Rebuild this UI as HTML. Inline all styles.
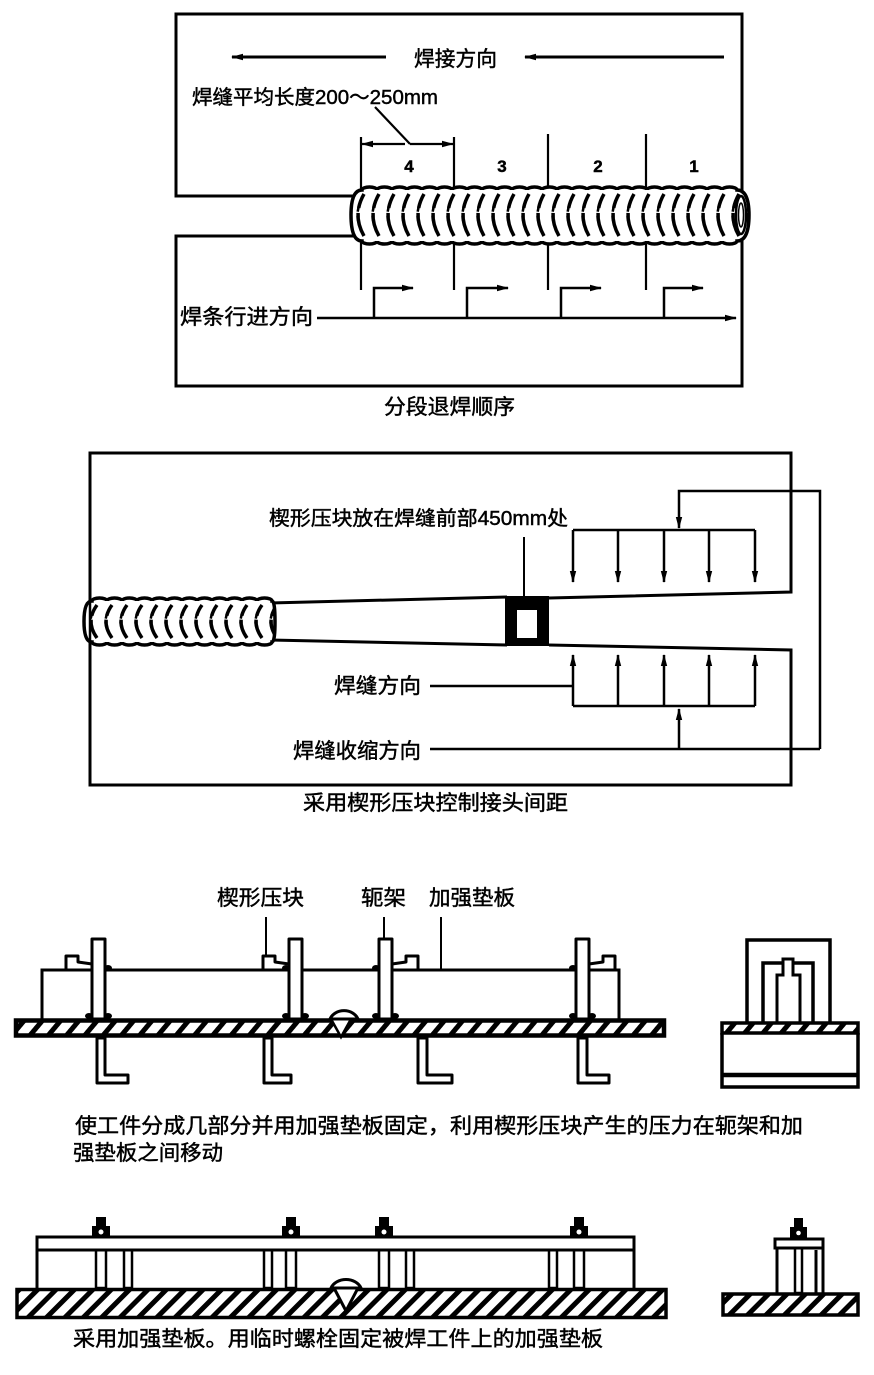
<!DOCTYPE html>
<html><head><meta charset="utf-8">
<style>
html,body{margin:0;padding:0;background:#fff;}
svg{display:block;}
text{font-family:"Liberation Sans","Noto Sans CJK SC",sans-serif;fill:#000;stroke:#000;stroke-width:0.45;}
</style></head><body>
<svg width="874" height="1375" viewBox="0 0 874 1375" xmlns="http://www.w3.org/2000/svg">
<defs>
<marker id="ah" markerWidth="12" markerHeight="8" refX="11" refY="4" orient="auto" markerUnits="userSpaceOnUse"><path d="M0,0.8 L12,4 L0,7.2 Z" fill="#000"/></marker>
<pattern id="bead1" patternUnits="userSpaceOnUse" x="352" y="189" width="15" height="52">
 <path d="M12,5 Q0,26 12,47" fill="none" stroke="#000" stroke-width="3.5" stroke-dasharray="15,5,40"/>
 <path d="M8,14 Q3,26 8,38" fill="none" stroke="#000" stroke-width="2.5" stroke-dasharray="9,4,20"/>
</pattern>
<pattern id="bead2" patternUnits="userSpaceOnUse" x="85" y="601" width="15" height="41">
 <path d="M12,4 Q0,20.5 12,37" fill="none" stroke="#000" stroke-width="3.5" stroke-dasharray="12,4,30"/>
 <path d="M8,11 Q3,20.5 8,30" fill="none" stroke="#000" stroke-width="2.5" stroke-dasharray="7,3,20"/>
</pattern>
<pattern id="hA" width="14" height="14" patternUnits="userSpaceOnUse" patternTransform="rotate(40)"><rect width="5" height="14" fill="#000"/></pattern>
<pattern id="hB" width="13" height="13" patternUnits="userSpaceOnUse" patternTransform="rotate(45)"><rect width="5" height="13" fill="#000"/></pattern>
<path id="b1" d="M362,190 a7.5,3 0 0 1 15,0 a7.5,3 0 0 1 15,0 a7.5,3 0 0 1 15,0 a7.5,3 0 0 1 15,0 a7.5,3 0 0 1 15,0 a7.5,3 0 0 1 15,0 a7.5,3 0 0 1 15,0 a7.5,3 0 0 1 15,0 a7.5,3 0 0 1 15,0 a7.5,3 0 0 1 15,0 a7.5,3 0 0 1 15,0 a7.5,3 0 0 1 15,0 a7.5,3 0 0 1 15,0 a7.5,3 0 0 1 15,0 a7.5,3 0 0 1 15,0 a7.5,3 0 0 1 15,0 a7.5,3 0 0 1 15,0 a7.5,3 0 0 1 15,0 a7.5,3 0 0 1 15,0 a7.5,3 0 0 1 15,0 a7.5,3 0 0 1 15,0 a7.5,3 0 0 1 15,0 a7.5,3 0 0 1 15,0 a7.5,3 0 0 1 15,0 a7.5,3 0 0 1 15,0 Q749,190 749,215 Q749,241 737,241 a7.5,3 0 0 1 -15,0 a7.5,3 0 0 1 -15,0 a7.5,3 0 0 1 -15,0 a7.5,3 0 0 1 -15,0 a7.5,3 0 0 1 -15,0 a7.5,3 0 0 1 -15,0 a7.5,3 0 0 1 -15,0 a7.5,3 0 0 1 -15,0 a7.5,3 0 0 1 -15,0 a7.5,3 0 0 1 -15,0 a7.5,3 0 0 1 -15,0 a7.5,3 0 0 1 -15,0 a7.5,3 0 0 1 -15,0 a7.5,3 0 0 1 -15,0 a7.5,3 0 0 1 -15,0 a7.5,3 0 0 1 -15,0 a7.5,3 0 0 1 -15,0 a7.5,3 0 0 1 -15,0 a7.5,3 0 0 1 -15,0 a7.5,3 0 0 1 -15,0 a7.5,3 0 0 1 -15,0 a7.5,3 0 0 1 -15,0 a7.5,3 0 0 1 -15,0 a7.5,3 0 0 1 -15,0 a7.5,3 0 0 1 -15,0 Q351,241 351,215 Q351,190 362,190 Z"/>
<path id="b2" d="M92,601 a7.5,3 0 0 1 15,0 a7.5,3 0 0 1 15,0 a7.5,3 0 0 1 15,0 a7.5,3 0 0 1 15,0 a7.5,3 0 0 1 15,0 a7.5,3 0 0 1 15,0 a7.5,3 0 0 1 15,0 a7.5,3 0 0 1 15,0 a7.5,3 0 0 1 15,0 a7.5,3 0 0 1 15,0 a7.5,3 0 0 1 15,0 a7.5,3 0 0 1 15,0 Q275,601 275,621.5 Q275,642 272,642 a7.5,3 0 0 1 -15,0 a7.5,3 0 0 1 -15,0 a7.5,3 0 0 1 -15,0 a7.5,3 0 0 1 -15,0 a7.5,3 0 0 1 -15,0 a7.5,3 0 0 1 -15,0 a7.5,3 0 0 1 -15,0 a7.5,3 0 0 1 -15,0 a7.5,3 0 0 1 -15,0 a7.5,3 0 0 1 -15,0 a7.5,3 0 0 1 -15,0 a7.5,3 0 0 1 -15,0 Q84,642 84,621.5 Q84,601 92,601 Z"/>
</defs>
<rect width="874" height="1375" fill="#fff"/>

<!-- ===== TOP DIAGRAM ===== -->
<g fill="none" stroke="#000" stroke-width="3">
 <path d="M358,196 H176 V14 H742 V194"/>
 <path d="M358,236 H176 V386 H742 V238"/>
</g>
<g stroke="#000" stroke-width="3" fill="none">
 <line x1="386" y1="57" x2="232" y2="57" marker-end="url(#ah)"/>
 <line x1="724" y1="57" x2="525" y2="57" marker-end="url(#ah)"/>
</g>
<text x="414" y="66" font-size="21" textLength="83" lengthAdjust="spacingAndGlyphs">焊接方向</text>
<text x="192" y="104" font-size="20" textLength="246" lengthAdjust="spacingAndGlyphs">焊缝平均长度200～250mm</text>
<g stroke="#000" stroke-width="2.2" fill="none">
 <line x1="375" y1="107" x2="410" y2="144"/>
 <path d="M361,137 V290 M454,137 V290 M548,134 V290 M646,134 V290"/>
 <line x1="405" y1="144" x2="362" y2="144" marker-end="url(#ah)"/>
 <line x1="410" y1="144" x2="453" y2="144" marker-end="url(#ah)"/>
</g>
<g font-family="Liberation Serif, serif" font-weight="bold" font-size="17" text-anchor="middle">
 <text x="409" y="172">4</text><text x="502" y="172">3</text><text x="598" y="172">2</text><text x="694" y="172">1</text>
</g>
<use href="#b1" fill="#fff" stroke="none"/>
<use href="#b1" fill="url(#bead1)" stroke="#000" stroke-width="3.5"/>
<ellipse cx="741" cy="215" rx="5" ry="19" fill="none" stroke="#000" stroke-width="2.5"/>
<ellipse cx="741" cy="215" rx="2.5" ry="12" fill="none" stroke="#000" stroke-width="1.5"/>
<g stroke="#000" stroke-width="2.5" fill="none">
 <path d="M317,318 H736" marker-end="url(#ah)"/>
 <path d="M374,318 V288 H413" marker-end="url(#ah)"/>
 <path d="M467,318 V288 H508" marker-end="url(#ah)"/>
 <path d="M561,318 V288 H601" marker-end="url(#ah)"/>
 <path d="M664,318 V288 H703" marker-end="url(#ah)"/>
</g>
<text x="180" y="324" font-size="21" textLength="133" lengthAdjust="spacingAndGlyphs">焊条行进方向</text>
<text x="384" y="414" font-size="21" textLength="131" lengthAdjust="spacingAndGlyphs">分段退焊顺序</text>

<!-- ===== MIDDLE DIAGRAM ===== -->
<g fill="none" stroke="#000" stroke-width="3">
 <path d="M90,602 V453 H791 V592 L549,598"/>
 <path d="M270,603 L507,597"/>
 <path d="M270,640 L507,645"/>
 <path d="M549,645 L791,650 V785 H90 V642"/>
</g>
<use href="#b2" fill="#fff" stroke="none"/>
<use href="#b2" fill="url(#bead2)" stroke="#000" stroke-width="3.5"/>
<line x1="90" y1="598" x2="90" y2="646" stroke="#000" stroke-width="2.5"/>
<rect x="505" y="596" width="44" height="50" fill="#000"/>
<rect x="517" y="610" width="20" height="28" fill="#fff"/>
<line x1="524" y1="537" x2="524" y2="597" stroke="#000" stroke-width="2"/>
<text x="269" y="525" font-size="20" textLength="299" lengthAdjust="spacingAndGlyphs">楔形压块放在焊缝前部450mm处</text>
<g stroke="#000" stroke-width="2.5" fill="none">
 <path d="M820,749 V491 H679 V528" marker-end="url(#ah)"/>
 <path d="M573,530 H755"/>
 <path d="M573,530 V582" marker-end="url(#ah)"/>
 <path d="M618,530 V582" marker-end="url(#ah)"/>
 <path d="M664,530 V582" marker-end="url(#ah)"/>
 <path d="M709,530 V582" marker-end="url(#ah)"/>
 <path d="M755,530 V582" marker-end="url(#ah)"/>
 <path d="M573,706 H755"/>
 <path d="M573,706 V655" marker-end="url(#ah)"/>
 <path d="M618,706 V655" marker-end="url(#ah)"/>
 <path d="M664,706 V655" marker-end="url(#ah)"/>
 <path d="M709,706 V655" marker-end="url(#ah)"/>
 <path d="M755,706 V655" marker-end="url(#ah)"/>
 <path d="M679,749 V709" marker-end="url(#ah)"/>
 <path d="M430,686 H573"/>
 <path d="M430,749 H820"/>
</g>
<text x="334" y="693" font-size="21" textLength="87" lengthAdjust="spacingAndGlyphs">焊缝方向</text>
<text x="293" y="758" font-size="21" textLength="128" lengthAdjust="spacingAndGlyphs">焊缝收缩方向</text>
<text x="303" y="810" font-size="21" textLength="265" lengthAdjust="spacingAndGlyphs">采用楔形压块控制接头间距</text>

<!-- ===== SECTION A ===== -->
<text x="217" y="905" font-size="21" textLength="87" lengthAdjust="spacingAndGlyphs">楔形压块</text>
<text x="361" y="905" font-size="21" textLength="45" lengthAdjust="spacingAndGlyphs">轭架</text>
<text x="429" y="905" font-size="21" textLength="86" lengthAdjust="spacingAndGlyphs">加强垫板</text>
<g stroke="#000" stroke-width="2" fill="none">
 <path d="M266,917 V958 M384,917 V941 M441,917 V970"/>
</g>
<path d="M42,1019 V970 H619 V1019" fill="none" stroke="#000" stroke-width="3"/>
<g fill="#fff" stroke="#000" stroke-width="3" stroke-linejoin="round">
 <polygon points="66,970 66,956 78,956 78,962 92,964 92,970"/>
 <polygon points="263,970 263,956 275,956 275,962 289,964 289,970"/>
 <polygon points="392,970 392,964 406,962 406,956 418,956 418,970"/>
 <polygon points="589,970 589,964 603,962 603,956 615,956 615,970"/>
 <rect x="92" y="939" width="13" height="80"/>
 <rect x="289" y="939" width="13" height="80"/>
 <rect x="379" y="939" width="13" height="80"/>
 <rect x="576" y="939" width="13" height="80"/>
</g>
<g fill="#000">
 <ellipse cx="89" cy="1016" rx="4" ry="3"/><ellipse cx="108" cy="1016" rx="4" ry="3"/>
 <ellipse cx="286" cy="1016" rx="4" ry="3"/><ellipse cx="305" cy="1016" rx="4" ry="3"/>
 <ellipse cx="376" cy="1016" rx="4" ry="3"/><ellipse cx="395" cy="1016" rx="4" ry="3"/>
 <ellipse cx="573" cy="1016" rx="4" ry="3"/><ellipse cx="592" cy="1016" rx="4" ry="3"/>
 <ellipse cx="108" cy="968" rx="4" ry="3"/><ellipse cx="286" cy="968" rx="4" ry="3"/>
 <ellipse cx="376" cy="968" rx="4" ry="3"/><ellipse cx="573" cy="968" rx="4" ry="3"/>
</g>
<rect x="16" y="1020.5" width="648" height="15" fill="url(#hA)" stroke="#000" stroke-width="4.5"/>
<polygon points="331,1019 341,1037 351,1019" fill="#fff" stroke="#000" stroke-width="2.5"/>
<path d="M330,1019 A15,13 0 0 1 358,1019 Z" fill="#fff" stroke="#000" stroke-width="3"/>
<g fill="#fff" stroke="#000" stroke-width="3" stroke-linejoin="round">
 <polygon points="97,1038 97,1083 128,1083 128,1075 105,1075 105,1038"/>
 <polygon points="264,1038 264,1083 291,1083 291,1075 272,1075 272,1038"/>
 <polygon points="418,1038 418,1083 452,1083 452,1075 427,1075 427,1038"/>
 <polygon points="578,1038 578,1083 609,1083 609,1075 587,1075 587,1038"/>
</g>
<!-- right A -->
<g fill="none" stroke="#000" stroke-width="3.5">
 <path d="M747,1022 V940 H830 V1022"/>
 <path d="M763,1022 V963 H813 V1022"/>
</g>
<path d="M777,1022 V975 H783 V959 H793 V975 H800 V1022" fill="#fff" stroke="#000" stroke-width="3"/>
<rect x="722" y="1023" width="136" height="10" fill="url(#hA)" stroke="#000" stroke-width="3.5"/>
<path d="M722,1033 V1087 H858 V1033" fill="none" stroke="#000" stroke-width="3.5"/>
<line x1="722" y1="1075" x2="858" y2="1075" stroke="#000" stroke-width="4.5"/>

<text x="75" y="1133" font-size="21" textLength="728" lengthAdjust="spacingAndGlyphs">使工件分成几部分并用加强垫板固定，利用楔形压块产生的压力在轭架和加</text>
<text x="73" y="1160" font-size="21" textLength="150" lengthAdjust="spacingAndGlyphs">强垫板之间移动</text>

<!-- ===== SECTION B ===== -->
<g fill="#fff" stroke="#000" stroke-width="2.5">
 <path d="M37,1250 V1288 M634,1250 V1288" fill="none" stroke-width="3"/>
 <rect x="124" y="1250" width="8" height="38"/>
 <rect x="264" y="1250" width="8" height="38"/>
 <rect x="406" y="1250" width="8" height="38"/>
 <rect x="549" y="1250" width="8" height="38"/>
 <rect x="96" y="1250" width="10" height="38"/>
 <rect x="286" y="1250" width="10" height="38"/>
 <rect x="379" y="1250" width="10" height="38"/>
 <rect x="574" y="1250" width="10" height="38"/>
</g>
<rect x="37" y="1237" width="597" height="13" fill="#fff" stroke="#000" stroke-width="3"/>
<g fill="#000">
 <rect x="96" y="1217" width="10" height="10"/><rect x="92" y="1226" width="18" height="11"/>
 <rect x="286" y="1217" width="10" height="10"/><rect x="282" y="1226" width="18" height="11"/>
 <rect x="379" y="1217" width="10" height="10"/><rect x="375" y="1226" width="18" height="11"/>
 <rect x="574" y="1217" width="10" height="10"/><rect x="570" y="1226" width="18" height="11"/>
</g>
<g fill="#fff">
 <circle cx="101" cy="1232" r="2.5"/><circle cx="291" cy="1232" r="2.5"/>
 <circle cx="384" cy="1232" r="2.5"/><circle cx="579" cy="1232" r="2.5"/>
</g>
<rect x="17" y="1289.5" width="649" height="28" fill="url(#hB)" stroke="#000" stroke-width="3.5"/>
<polygon points="334,1288 346,1311 358,1288" fill="#fff" stroke="#000" stroke-width="3"/>
<path d="M331,1288 A16,13 0 0 1 361,1288 Z" fill="#fff" stroke="#000" stroke-width="3"/>
<!-- right B -->
<rect x="723" y="1294" width="135" height="21" fill="url(#hB)" stroke="#000" stroke-width="3.5"/>
<g fill="none" stroke="#000" stroke-width="3">
 <path d="M777,1248 V1293 M823,1248 V1293 M816,1250 V1293"/>
</g>
<rect x="795" y="1248" width="7" height="45" fill="#fff" stroke="#000" stroke-width="2.5"/>
<rect x="775" y="1239" width="48" height="9" fill="#fff" stroke="#000" stroke-width="3"/>
<rect x="794" y="1218" width="9" height="10" fill="#000"/>
<rect x="790" y="1227" width="17" height="12" fill="#000"/>
<circle cx="798.5" cy="1233" r="2.3" fill="#fff"/>

<text x="73" y="1346" font-size="21" textLength="530" lengthAdjust="spacingAndGlyphs">采用加强垫板。用临时螺栓固定被焊工件上的加强垫板</text>
</svg>
</body></html>
